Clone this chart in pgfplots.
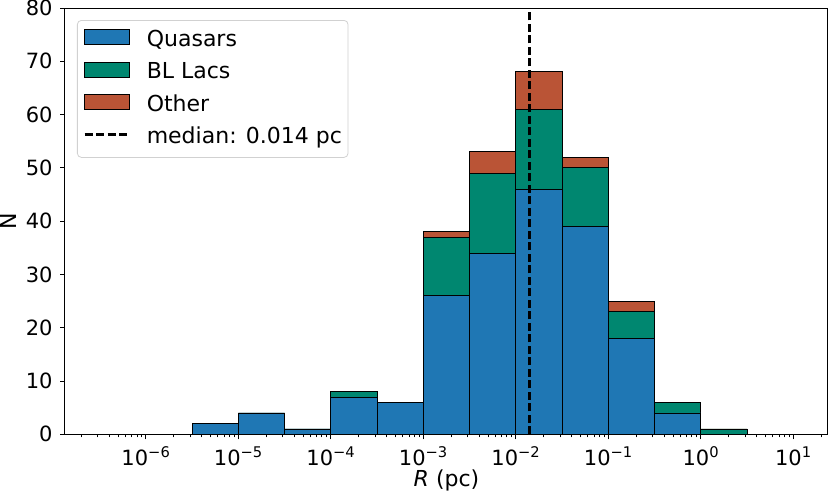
\documentclass[border=0pt]{standalone}
\usepackage{fontspec}
\setmainfont{DejaVu Sans}
\usepackage{pgfplots}
\usepackage{pgfplotstable}
\pgfplotsset{compat=1.18}
\definecolor{cq}{RGB}{31,119,180}
\definecolor{cb}{RGB}{0,135,112}
\definecolor{co}{RGB}{186,84,54}
\newcommand\tfs{\fontsize{21bp}{25bp}\selectfont}
\newcommand\lfs{\fontsize{22bp}{26bp}\selectfont}
\pgfplotsset{
 boxlegend/.style={legend image code/.code={\draw[##1, sharp corners] (0bp,-4.5bp) rectangle (45bp,10.5bp);}},
 linelegend/.style={legend image code/.code={\draw[##1, sharp corners] (0bp,3bp) -- (45bp,3bp);}},
}
% bin left edges (last row = right edge of last bin); q = quasars, qb = quasars+BL Lacs, t = total
\pgfplotstableread{
x q qb t
3.16228e-7 0 0 0
1e-6 0 0 0
3.16228e-6 2 2 2
1e-5 4 4 4
3.16228e-5 1 1 1
1e-4 7 8 8
3.16228e-4 6 6 6
1e-3 26 37 38
3.16228e-3 34 49 53
1e-2 46 61 68
3.16228e-2 39 50 52
0.1 18 23 25
0.316228 4 6 6
1 0 1 1
3.16228 0 0 0
10 0 0 0
}\hist
\begin{document}
\begin{tikzpicture}
\path[use as bounding box] (-65bp,-60.7bp) rectangle (765bp,434.3bp);
\begin{axis}[
 at={(0,0)}, anchor=south west,
 scale only axis, width=763bp, height=426.3bp,
 xmode=log, log basis x=10,
 xmin=1.3335e-7, xmax=23.714, ymin=0, ymax=80,
 ytick={0,10,...,80},
 xtick={1e-6,1e-5,1e-4,1e-3,1e-2,1e-1,1,10},
 xticklabels={10\textsuperscript{−6},10\textsuperscript{−5},10\textsuperscript{−4},10\textsuperscript{−3},10\textsuperscript{−2},10\textsuperscript{−1},10\textsuperscript{0},10\textsuperscript{1}},
 minor xtick={2e-7,3e-7,4e-7,5e-7,6e-7,7e-7,8e-7,9e-7,
  2e-6,3e-6,4e-6,5e-6,6e-6,7e-6,8e-6,9e-6,
  2e-5,3e-5,4e-5,5e-5,6e-5,7e-5,8e-5,9e-5,
  2e-4,3e-4,4e-4,5e-4,6e-4,7e-4,8e-4,9e-4,
  2e-3,3e-3,4e-3,5e-3,6e-3,7e-3,8e-3,9e-3,
  2e-2,3e-2,4e-2,5e-2,6e-2,7e-2,8e-2,9e-2,
  0.2,0.3,0.4,0.5,0.6,0.7,0.8,0.9,
  2,3,4,5,6,7,8,9,20},
 tick pos=left, tick align=outside,
 major tick length=5bp, minor tick length=3bp,
 tick style={black, line width=0.9bp},
 axis line style={line width=1bp},
 /pgf/number format/assume math mode=true,
 ticklabel style={font=\tfs},
 xticklabel style={anchor=base, yshift=-25.7bp},
 yticklabel style={xshift=-4bp},
 xlabel={\textit{R} (pc)}, ylabel={N},
 label style={font=\lfs},
 xlabel style={at={(axis description cs:0.5,0)}, anchor=base, yshift=-52.2bp},
 ylabel style={at={(axis description cs:-0.07405,0.5)}, anchor=center},
 legend style={at={(0,1)}, anchor=north west, xshift=12bp, yshift=-12bp,
   draw=black!18, line width=0.8bp, rounded corners=4bp, fill=white,
   inner xsep=6bp, inner ysep=9bp, row sep=10.8bp, column sep=16bp,
   font=\lfs, nodes={inner sep=0pt, text height=16.5bp, text depth=5bp}},
 legend cell align=left,
]
\addlegendimage{boxlegend, fill=cq, draw=black, line width=0.9bp}
\addlegendentry{Quasars}
\addlegendimage{boxlegend, fill=cb, draw=black, line width=0.9bp}
\addlegendentry{BL Lacs}
\addlegendimage{boxlegend, fill=co, draw=black, line width=0.9bp}
\addlegendentry{Other}
\addlegendimage{linelegend, black, line width=2.4bp, dash pattern=on 8bp off 3.5bp}
\addlegendentry{median: 0.014 pc}
\addplot[forget plot, ybar interval, fill=co, draw=black, line width=0.9bp] table[x=x, y=t] {\hist};
\addplot[forget plot, ybar interval, fill=cb, draw=black, line width=0.9bp] table[x=x, y=qb] {\hist};
\addplot[forget plot, ybar interval, fill=cq, draw=black, line width=0.9bp] table[x=x, y=q] {\hist};
\addplot[forget plot, black, line width=2.4bp, dash pattern=on 8bp off 3.5bp] coordinates {(0.014,0) (0.014,80)};
\end{axis}
\end{tikzpicture}
\end{document}
